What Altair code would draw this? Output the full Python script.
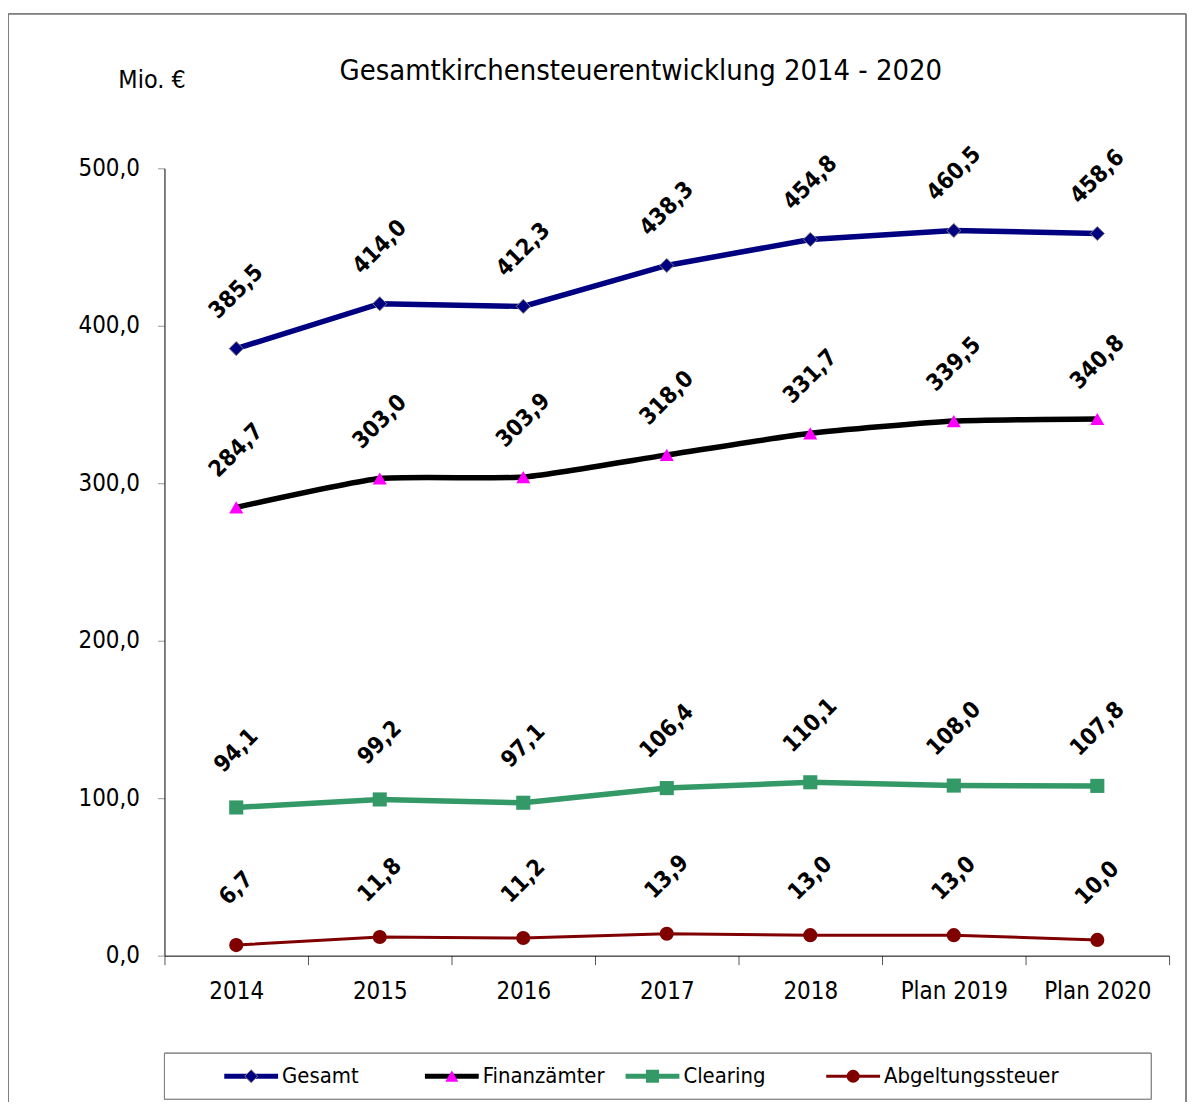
import altair as alt
import pandas as pd

years = ["2014", "2015", "2016", "2017", "2018", "Plan 2019", "Plan 2020"]
series = ["Gesamt", "Finanzämter", "Clearing", "Abgeltungssteuer"]
gesamt = [385.5, 414.0, 412.3, 438.3, 454.8, 460.5, 458.6]
finanzaemter = [284.7, 303.0, 303.9, 318.0, 331.7, 339.5, 340.8]
clearing = [94.1, 99.2, 97.1, 106.4, 110.1, 108.0, 107.8]
abgeltung = [6.7, 11.8, 11.2, 13.9, 13.0, 13.0, 10.0]
y_ticks = [0, 100, 200, 300, 400, 500]
title_text = ["Gesamtkirchensteuerentwicklung 2014 - 2020"]

line_colors = ["#000080", "#000000", "#339966", "#800000"]
marker_colors = ["#000080", "#FF00FF", "#339966", "#800000"]
marker_shapes = ["diamond", "triangle-up", "square", "circle"]

FONT = "DejaVu Sans Condensed, DejaVu Sans"

values = {"Gesamt": gesamt, "Finanzämter": finanzaemter,
          "Clearing": clearing, "Abgeltungssteuer": abgeltung}
rows = []
for s in series:
    for yr, v in zip(years, values[s]):
        rows.append({"year": yr, "series": s, "value": v,
                     "label": f"{v:.1f}".replace(".", ",")})
df = pd.DataFrame(rows)
leg_df = pd.DataFrame({"series": series})
title_df = pd.DataFrame({"t": title_text})

x_scale = alt.Scale(type="band", domain=years, paddingInner=0, paddingOuter=0)
y_scale = alt.Scale(domain=[0, 500], nice=False)
stroke_scale = alt.Scale(domain=series, range=line_colors)
fill_scale = alt.Scale(domain=series, range=marker_colors)
shape_scale = alt.Scale(domain=series, range=marker_shapes)

x_axis = alt.Axis(title=None, orient="bottom", labelAngle=0, tickBand="extent",
                  tickSize=9, tickColor="#555555", domainColor="#000000",
                  labelFont=FONT, labelFontSize=24, labelColor="#000000",
                  labelPadding=15)
y_axis = alt.Axis(orient="left", values=y_ticks, grid=False, tickSize=7,
                  tickColor="#999999", domainColor="#000000", labelFont=FONT,
                  labelFontSize=24, labelColor="#000000", labelPadding=18,
                  labelExpr="replace(format(datum.value, '.1f'), '.', ',')",
                  title="Mio. €", titleAngle=0, titleX=-13, titleY=-81,
                  titleAlign="center", titleBaseline="alphabetic",
                  titleFont=FONT, titleFontSize=25, titleFontWeight="normal",
                  titleColor="#000000")

base = alt.Chart(df)
X = alt.X("year:N", sort=years, scale=x_scale, bandPosition=0.5, axis=x_axis)
Xn = alt.X("year:N", sort=years, scale=x_scale, bandPosition=0.5, axis=None)
Y = alt.Y("value:Q", scale=y_scale, axis=y_axis)
stroke_enc = alt.Stroke("series:N", scale=stroke_scale, legend=None)

gesamt_line = base.transform_filter(
    alt.FieldEqualPredicate(field="series", equal="Gesamt")
).mark_line(strokeWidth=5.5).encode(x=X, y=Y, stroke=stroke_enc)

finanz_line = base.transform_filter(
    alt.FieldEqualPredicate(field="series", equal="Finanzämter")
).mark_line(interpolate="cardinal", tension=0.5, strokeWidth=5.5).encode(
    x=Xn, y=Y, stroke=stroke_enc)

clear_line = base.transform_filter(
    alt.FieldEqualPredicate(field="series", equal="Clearing")
).mark_line(strokeWidth=5.5).encode(x=Xn, y=Y, stroke=stroke_enc)

abg_line = base.transform_filter(
    alt.FieldEqualPredicate(field="series", equal="Abgeltungssteuer")
).mark_line(strokeWidth=3).encode(x=Xn, y=Y, stroke=stroke_enc)

points = base.mark_point(filled=True, opacity=1, strokeWidth=1, size=200).encode(
    x=Xn, y=Y,
    fill=alt.Fill("series:N", scale=fill_scale, legend=None),
    shape=alt.Shape("series:N", scale=shape_scale, legend=None),
    stroke=alt.condition("datum.series == 'Gesamt'", alt.value("#808080"),
                         alt.value("transparent")),
)

labels = base.mark_text(angle=315, font=FONT, fontSize=23, fontWeight="bold",
                        color="#000000", align="center", baseline="middle",
                        yOffset=-57).encode(x=Xn, y=Y, text="label:N")

# legend built from the series list
leg = alt.Chart(leg_df)
LX = alt.X("series:N", sort=series, axis=None,
           scale=alt.Scale(type="point", domain=series, range=[87, 691],
                           padding=0))
leg_y = alt.value(911)

leg_box = leg.mark_rect(fill="white", stroke="#7f7f7f", strokeWidth=1).encode(
    x=alt.value(0), x2=alt.value(990), y=alt.value(888), y2=alt.value(934))
leg_rule = leg.mark_rule(xOffset=-27, x2Offset=27).encode(
    x=LX, x2="series:N", y=leg_y, stroke=stroke_enc,
    strokeWidth=alt.condition("datum.series == 'Abgeltungssteuer'",
                              alt.value(3), alt.value(5)))
leg_pts = leg.mark_point(filled=True, opacity=1, strokeWidth=1, size=170).encode(
    x=LX, y=leg_y,
    fill=alt.Fill("series:N", scale=fill_scale, legend=None),
    shape=alt.Shape("series:N", scale=shape_scale, legend=None),
    stroke=alt.condition("datum.series == 'Gesamt'", alt.value("#808080"),
                         alt.value("transparent")),
)
leg_txt = leg.mark_text(align="left", baseline="middle", dx=31, font=FONT,
                        fontSize=22, color="#000000").encode(
    x=LX, y=leg_y, text="series:N")

frame_l = leg.mark_rule(color="#7f7f7f", strokeWidth=1).encode(
    x=alt.value(-156.5), y=alt.value(-155), y2=alt.value(960))
frame_t = leg.mark_rule(color="#7f7f7f", strokeWidth=1).encode(
    x=alt.value(-156.5), x2=alt.value(1025), y=alt.value(-155))
frame_r = leg.mark_rule(color="#7f7f7f", strokeWidth=1).encode(
    x=alt.value(1025), y=alt.value(-155), y2=alt.value(960))

title = alt.Chart(title_df).mark_text(
    font=FONT, fontSize=29, color="#000000", align="center",
    baseline="alphabetic").encode(x=alt.value(478), y=alt.value(-89), text="t:N")

chart = alt.layer(
    frame_l, frame_t, frame_r, title,
    gesamt_line, finanz_line, clear_line, abg_line, points, labels,
    leg_box, leg_rule, leg_pts, leg_txt,
).resolve_scale(x="independent").properties(
    width=1008, height=790,
    autosize=alt.AutoSizeParams(type="none"),
    padding={"left": 157, "top": 159, "right": 20, "bottom": 145},
    background="white",
).configure_view(stroke=None)

chart.save("out.html", embed_options={"renderer": "svg", "actions": False})
